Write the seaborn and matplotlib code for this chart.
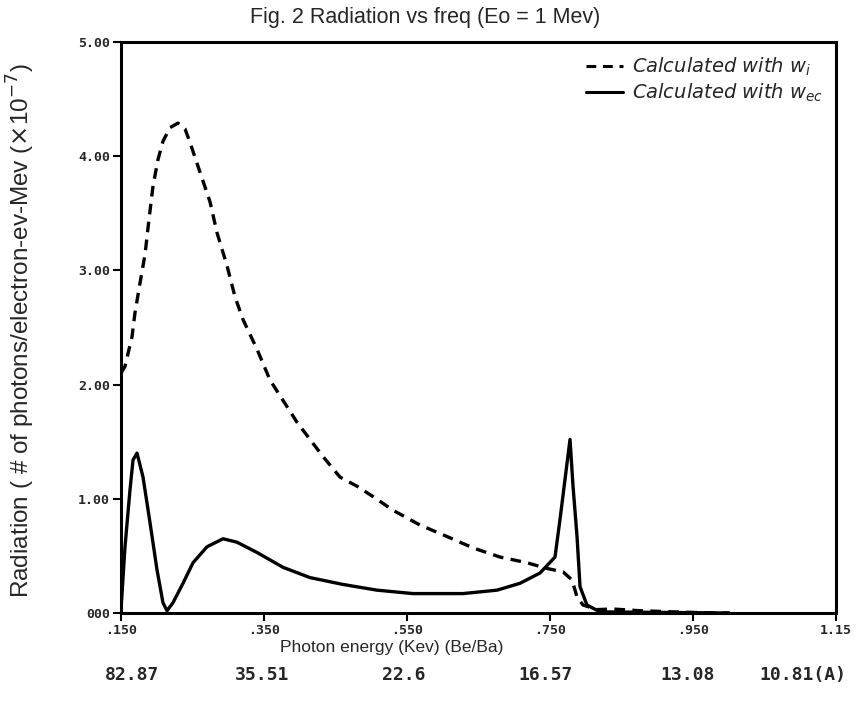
import numpy as np
import pandas as pd
import matplotlib
matplotlib.use("Agg")
import matplotlib.pyplot as plt
import seaborn as sns

# ---- data ----
x_wi = [0.150, 0.1556, 0.1654, 0.1696, 0.1766, 0.1836, 0.1892, 0.1948, 0.2017, 0.2087,
        0.2185, 0.2297, 0.2395, 0.2465, 0.2605, 0.2745, 0.2843, 0.2983, 0.3094, 0.3206,
        0.3402, 0.3584, 0.3696, 0.3962, 0.4325, 0.4563, 0.4801, 0.5024, 0.5304, 0.5682,
        0.6059, 0.6423, 0.6801, 0.7178, 0.7458, 0.7682, 0.7808, 0.7878, 0.7962, 0.8157,
        0.8381, 0.8759, 0.9220, 0.9780, 1.0017]
y_wi = [2.10, 2.16, 2.42, 2.63, 2.89, 3.14, 3.45, 3.74, 3.97, 4.13,
        4.25, 4.29, 4.24, 4.12, 3.86, 3.60, 3.33, 3.04, 2.77, 2.57,
        2.31, 2.04, 1.93, 1.67, 1.37, 1.19, 1.11, 1.02, 0.90, 0.77,
        0.67, 0.57, 0.49, 0.44, 0.39, 0.36, 0.29, 0.14, 0.07, 0.03,
        0.035, 0.02, 0.01, 0.0, 0.0]

x_wc = [0.150, 0.1556, 0.1626, 0.1668, 0.1724, 0.1808, 0.1906, 0.2003, 0.2087, 0.2143,
        0.2227, 0.2367, 0.2507, 0.2703, 0.2927, 0.3122, 0.3402, 0.3766, 0.4143, 0.4605,
        0.5080, 0.5584, 0.6283, 0.6759, 0.7080, 0.7360, 0.7570, 0.7640, 0.7710, 0.7780,
        0.7822, 0.7878, 0.7920, 0.8017, 0.8199, 1.0000]
y_wc = [0.03, 0.58, 1.08, 1.34, 1.40, 1.19, 0.79, 0.38, 0.09, 0.02,
        0.09, 0.26, 0.44, 0.58, 0.65, 0.62, 0.53, 0.40, 0.31, 0.25,
        0.20, 0.17, 0.17, 0.20, 0.26, 0.35, 0.49, 0.82, 1.17, 1.52,
        1.11, 0.67, 0.23, 0.07, 0.01, 0.0]

x_ticks = [0.15, 0.35, 0.55, 0.75, 0.95, 1.15]
x_ticklabels = [".150", ".350", ".550", ".750", ".950", "1.15"]
y_ticks = [0, 1, 2, 3, 4, 5]
y_ticklabels = ["000", "1.00", "2.00", "3.00", "4.00", "5.00"]
wl_pos = [0.165, 0.347, 0.546, 0.744, 0.943, 1.104]
wl_labels = ["82.87", "35.51", "22.6", "16.57", "13.08", "10.81(A)"]

label_wi = r"Calculated with $w_i$"
label_wc = r"Calculated with $w_{ec}$"

df = pd.concat([
    pd.DataFrame({"E": x_wi, "R": y_wi, "series": label_wi}),
    pd.DataFrame({"E": x_wc, "R": y_wc, "series": label_wc}),
])

sns.set_style("ticks")
plt.rcParams["font.family"] = ["Liberation Sans", "DejaVu Sans"]

fig = plt.figure(figsize=(8.6, 7.05), dpi=100)
ax = fig.add_axes([121/860, 1-613/705, 715/860, 571/705])

sns.lineplot(data=df, x="E", y="R", hue="series", style="series",
             palette={label_wi: "black", label_wc: "black"},
             dashes={label_wi: (3.2, 2.2), label_wc: ""},
             sort=False, estimator=None, linewidth=2.4, ax=ax)

ax.set_xlim(0.15, 1.15)
ax.set_ylim(0, 5)
ax.set_xticks(x_ticks)
ax.set_xticklabels(x_ticklabels, fontfamily="DejaVu Sans Mono", fontweight="bold", fontsize=9.5)
ax.set_yticks(y_ticks)
ax.set_yticklabels(y_ticklabels, fontfamily="DejaVu Sans Mono", fontweight="bold", fontsize=9.5)
ax.tick_params(axis="both", direction="out", length=6, width=1.5, color="black", pad=2)
for s in ax.spines.values():
    s.set_linewidth(2.2)
    s.set_color("black")

ax.set_xlabel("Photon energy (Kev) (Be/Ba)", fontsize=12.5)
ax.xaxis.set_label_coords(0.379, -0.048)
ax.set_ylabel(r"Radiation ( # of photons/electron-ev-Mev ($\times$10$^{-7}$)", fontsize=17.5)
ax.yaxis.set_label_coords(-0.117, 0.495)

fig.text(425/860, 1-18/705, "Fig. 2 Radiation vs freq (Eo = 1 Mev)", ha="center", va="center", fontsize=15.5)

for xp, lab in zip(wl_pos, wl_labels):
    ax.text(xp, -0.108, lab, transform=ax.get_xaxis_transform(), ha="center", va="center",
            fontfamily="DejaVu Sans Mono", fontweight="bold", fontsize=13)

leg = ax.legend(loc="upper right", frameon=False, handlelength=1.9,
                prop={"family": "DejaVu Sans", "style": "italic", "size": 14},
                handletextpad=0.45, borderaxespad=0.3, labelspacing=0.2)
for line in leg.get_lines():
    line.set_linewidth(2.2)

fig.savefig("out.png", dpi=100)
